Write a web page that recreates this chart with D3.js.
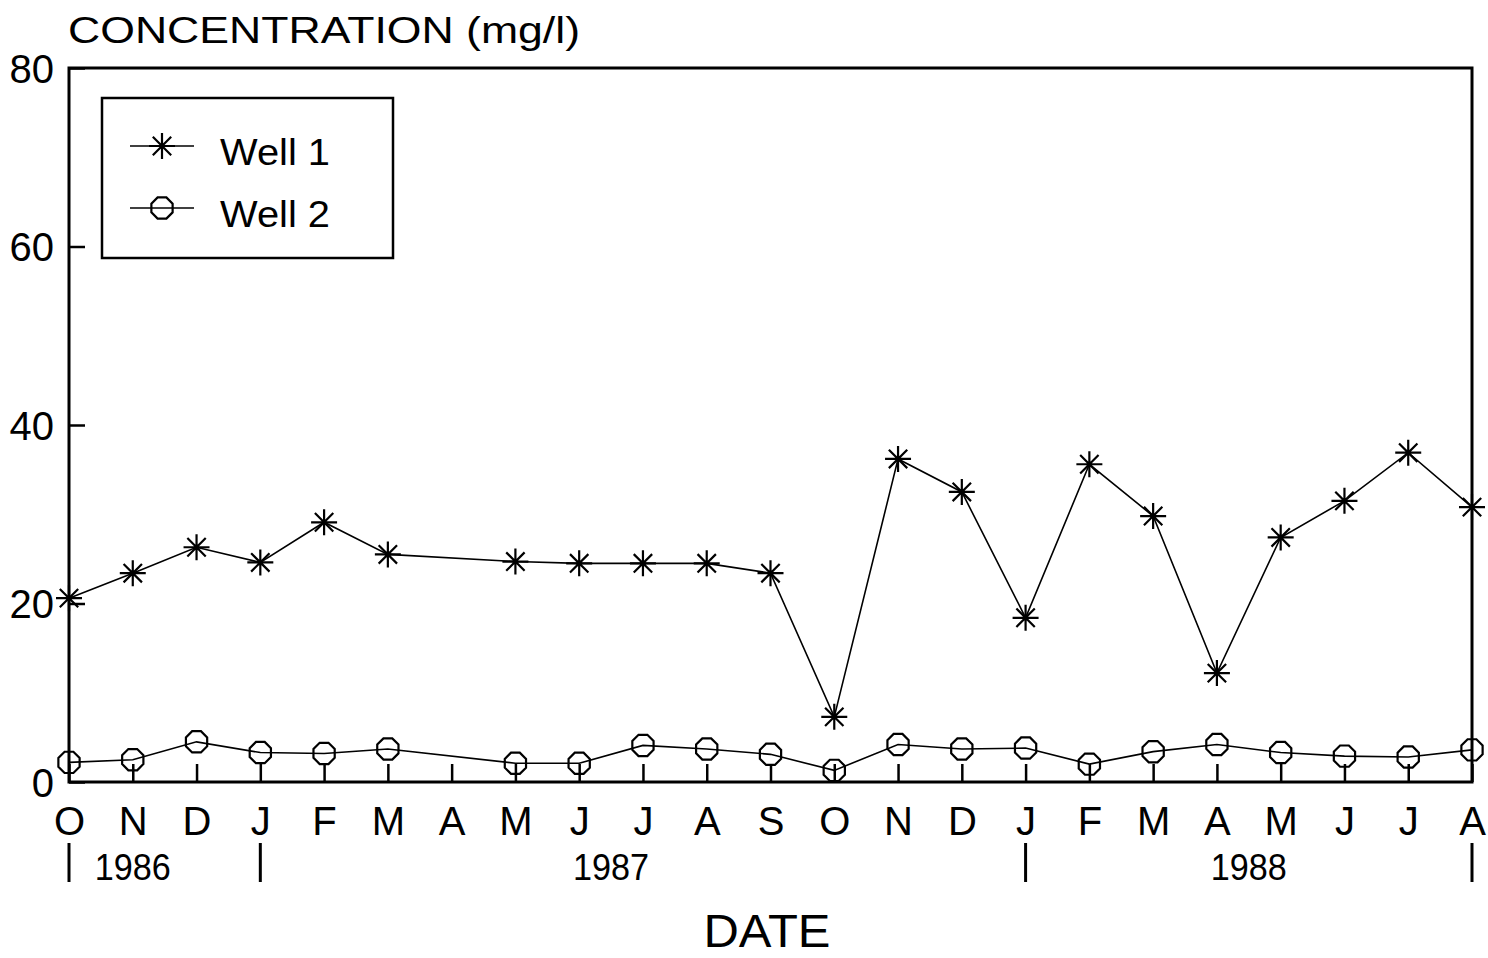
<!DOCTYPE html>
<html>
<head>
<meta charset="utf-8">
<script src="https://cdn.jsdelivr.net/npm/d3@7"></script>
<style>
  html, body { margin: 0; padding: 0; background: #fff; }
  svg { display: block; }
  text { font-family: "Liberation Sans", Arial, sans-serif; fill: #000; }
</style>
</head>
<body>
<svg id="chart" width="1488" height="958"></svg>
<script>
// Monthly sampling, October 1986 through August 1988
const months = ["O","N","D","J","F","M","A","M","J","J","A","S","O","N","D","J","F","M","A","M","J","J","A"];
// Concentration in mg/l; April 1987 was not sampled
const well1 = [20.6, 23.4, 26.3, 24.6, 29.1, 25.5, null, 24.7, 24.5, 24.5, 24.5, 23.4, 7.3, 36.2, 32.5, 18.4, 35.6, 29.8, 12.2, 27.4, 31.5, 36.9, 30.8];
const well2 = [2.2, 2.5, 4.5, 3.3, 3.2, 3.7, null, 2.1, 2.1, 4.1, 3.7, 3.1, 1.3, 4.2, 3.7, 3.8, 2.0, 3.4, 4.2, 3.3, 2.9, 2.8, 3.6];
const yTicks = [0, 20, 40, 60, 80];
const years = ["1986", "1987", "1988"];
const yearSpans = [[0, 2], [3, 14], [15, 22]];   // first and last month index of each year
const yearBreaks = [0, 3, 15, 22];               // month indices marked below the labels
const seriesNames = ["Well 1", "Well 2"];

const svg = d3.select("#chart");
const plotL = 69, plotR = 1472, plotT = 68, plotB = 782;

const x = d3.scaleLinear().domain([0, months.length - 1]).range([plotL, plotR]);
const y = d3.scaleLinear().domain([0, 80]).range([plotB, plotT]);

// Y axis: inward ticks, labels right-aligned
const yAxis = d3.axisLeft(y).tickValues(yTicks).tickSize(-16).tickSizeOuter(0).tickPadding(15);
const gy = svg.append("g").attr("transform", `translate(${plotL},0)`).call(yAxis);
gy.select(".domain").remove();
gy.selectAll(".tick line").attr("stroke", "#000").attr("stroke-width", 2.5);
gy.selectAll(".tick text").style("font-size", "40px").attr("dy", "0.36em");

// X axis: inward month ticks, single-letter month labels
const xAxis = d3.axisBottom(x).tickValues(d3.range(months.length)).tickFormat(i => months[i])
  .tickSize(-18).tickSizeOuter(0).tickPadding(25);
const gx = svg.append("g").attr("transform", `translate(0,${plotB})`).call(xAxis);
gx.select(".domain").remove();
gx.selectAll(".tick line").attr("stroke", "#000").attr("stroke-width", 2.5);
gx.selectAll(".tick text").style("font-size", "40px");

// Plot frame
svg.append("rect").attr("x", plotL).attr("y", plotT).attr("width", plotR - plotL).attr("height", plotB - plotT)
  .attr("fill", "none").attr("stroke", "#000").attr("stroke-width", 3);

// Year separators and year labels
svg.append("g").selectAll("line").data(yearBreaks).join("line")
  .attr("x1", d => x(d)).attr("x2", d => x(d)).attr("y1", 843).attr("y2", 882)
  .attr("stroke", "#000").attr("stroke-width", 3);
svg.append("g").selectAll("text").data(years).join("text")
  .attr("x", (d, i) => (x(yearSpans[i][0]) + x(yearSpans[i][1])) / 2)
  .attr("y", 880).attr("text-anchor", "middle")
  .attr("textLength", 76).attr("lengthAdjust", "spacingAndGlyphs")
  .style("font-size", "36px").text(d => d);

// Axis titles
svg.append("text").attr("x", 68).attr("y", 43).attr("textLength", 512).attr("lengthAdjust", "spacingAndGlyphs")
  .style("font-size", "37px").text("CONCENTRATION (mg/l)");
svg.append("text").attr("x", 767).attr("y", 947).attr("text-anchor", "middle")
  .attr("textLength", 127).attr("lengthAdjust", "spacingAndGlyphs")
  .style("font-size", "46px").text("DATE");

// Marker shapes: eight-armed star and an octagonal ring
function starPath(r) {
  let p = "";
  for (let k = 0; k < 4; k++) {
    const a = k * Math.PI / 4;
    const dx = r * Math.cos(a), dy = r * Math.sin(a);
    p += `M${-dx},${-dy}L${dx},${dy}`;
  }
  return p;
}
function octPath(r) {
  const pts = d3.range(8).map(k => {
    const a = Math.PI / 8 + k * Math.PI / 4;
    return [r * Math.cos(a), r * Math.sin(a)];
  });
  return "M" + pts.map(p => p.join(",")).join("L") + "Z";
}
const markers = [starPath(13), octPath(11.5)];

const line = d3.line().x(d => x(d.i)).y(d => y(d.v));
[well1, well2].forEach((vals, s) => {
  const pts = vals.map((v, i) => ({ i, v })).filter(d => d.v !== null);
  svg.append("path").datum(pts).attr("d", line)
    .attr("fill", "none").attr("stroke", "#000").attr("stroke-width", 1.6);
  svg.append("g").selectAll("path").data(pts).join("path")
    .attr("transform", d => `translate(${x(d.i)},${y(d.v)})`)
    .attr("d", markers[s]).attr("fill", "none").attr("stroke", "#000").attr("stroke-width", 2.2);
});

// Legend
const lg = svg.append("g");
lg.append("rect").attr("x", 102).attr("y", 98).attr("width", 291).attr("height", 160)
  .attr("fill", "#fff").attr("stroke", "#000").attr("stroke-width", 2.5);
seriesNames.forEach((name, s) => {
  const ly = 146 + s * 62;
  lg.append("line").attr("x1", 130).attr("x2", 194).attr("y1", ly).attr("y2", ly)
    .attr("stroke", "#000").attr("stroke-width", 1.6);
  lg.append("path").attr("transform", `translate(162,${ly})`).attr("d", markers[s])
    .attr("fill", "none").attr("stroke", "#000").attr("stroke-width", 2.2);
  lg.append("text").attr("x", 220).attr("y", ly + 19).attr("textLength", 110).attr("lengthAdjust", "spacingAndGlyphs")
    .style("font-size", "36px").text(name);
});
</script>
</body>
</html>
